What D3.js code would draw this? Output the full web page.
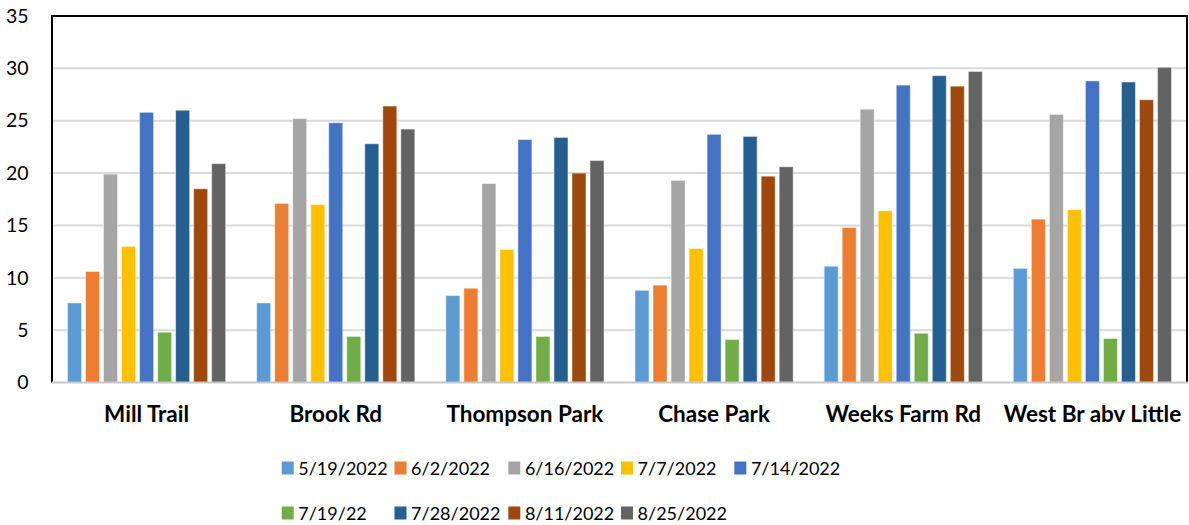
<!DOCTYPE html>
<html><head><meta charset="utf-8">
<script src="https://cdn.jsdelivr.net/npm/d3@7"></script>
<style>
html,body{margin:0;padding:0;background:#fff;}
svg{display:block;font-family:Lato, "Open Sans", sans-serif;}
</style></head>
<body><svg id="chart" width="1189" height="525"></svg>
<script>
const sites = ["Mill Trail","Brook Rd","Thompson Park","Chase Park","Weeks Farm Rd","West Br abv Little"];
const dates = ["5/19/2022","6/2/2022","6/16/2022","7/7/2022","7/14/2022","7/19/22","7/28/2022","8/11/2022","8/25/2022"];
const colors = ["#5B9BD5","#ED7D31","#A5A5A5","#FFC000","#4472C4","#70AD47","#255E91","#9E480E","#636363"];
// values per date (series), in order of sites
const s0519 = [7.6, 7.6, 8.3, 8.8, 11.1, 10.9];
const s0602 = [10.6, 17.1, 9.0, 9.3, 14.8, 15.6];
const s0616 = [19.9, 25.2, 19.0, 19.3, 26.1, 25.6];
const s0707 = [13.0, 17.0, 12.7, 12.8, 16.4, 16.5];
const s0714 = [25.8, 24.8, 23.2, 23.7, 28.4, 28.8];
const s0719 = [4.8, 4.4, 4.4, 4.1, 4.7, 4.2];
const s0728 = [26.0, 22.8, 23.4, 23.5, 29.3, 28.7];
const s0811 = [18.5, 26.4, 20.0, 19.7, 28.3, 27.0];
const s0825 = [20.9, 24.2, 21.2, 20.6, 29.7, 30.1];
const series = [s0519,s0602,s0616,s0707,s0714,s0719,s0728,s0811,s0825];
const yTicks = [0,5,10,15,20,25,30,35];

const svg = d3.select("#chart");
const L = 52, R = 1187, T = 16, B = 382.5;

const x0 = d3.scaleBand().domain(sites).range([L, R]).paddingInner(0).paddingOuter(0);
const x1 = d3.scaleBand().domain(d3.range(dates.length)).range([0, x0.bandwidth()])
  .paddingInner(0.224).paddingOuter(0.86);
const y = d3.scaleLinear().domain([0,35]).range([B, T]);

// gridlines
svg.append("g").selectAll("line").data(yTicks.filter(t => t>0 && t<35)).join("line")
  .attr("x1", L).attr("x2", R).attr("y1", d=>y(d)).attr("y2", d=>y(d))
  .attr("stroke", "#d9d9d9").attr("stroke-width", 2);

// bars
const groups = svg.append("g").selectAll("g").data(sites).join("g")
  .attr("transform", d => `translate(${x0(d)},0)`);
groups.selectAll("rect").data((d,i) => series.map((s,k) => ({k, v: s[i]}))).join("rect")
  .attr("x", d => x1(d.k)).attr("width", x1.bandwidth())
  .attr("y", d => y(d.v)).attr("height", d => y(0) - y(d.v))
  .attr("fill", d => colors[d.k])
  .attr("stroke", "#ffffff").attr("stroke-opacity", 0.45).attr("stroke-width", 1);

// frame
svg.append("path")
  .attr("d", `M${L},${B} L${L},${T} L${R},${T} L${R},${B}`)
  .attr("fill", "none").attr("stroke", "#000").attr("stroke-width", 2);
// x axis line
svg.append("line").attr("x1", L).attr("x2", R+1).attr("y1", B).attr("y2", B)
  .attr("stroke", "#c8c8c8").attr("stroke-width", 2);

// y axis labels
const yAxis = d3.axisLeft(y).tickValues(yTicks).tickSize(0).tickPadding(0);
const ya = svg.append("g").attr("transform", `translate(28.5,0)`).call(yAxis);
ya.select(".domain").remove();
ya.selectAll("text").attr("font-size", 19.5).attr("fill", "#000")
  .attr("font-family", "Lato, sans-serif");

// x axis labels
const xAxis = d3.axisBottom(x0).tickSize(0).tickPadding(0);
const xa = svg.append("g").attr("transform", `translate(0,${B})`).call(xAxis);
xa.select(".domain").remove();
xa.selectAll("text").attr("font-size", 22.5).attr("font-weight", "bold").attr("fill", "#000")
  .attr("font-family", "Lato, sans-serif").attr("dy", null).attr("y", 39);

// legend
const colX = [281.7, 394.5, 508.3, 621, 734.3];
const legendItems = dates.map((d,k) => ({d, k,
  col: k < 5 ? k : (k === 5 ? 0 : k - 5),
  row: k < 5 ? 0 : 1}));
const lg = svg.append("g").selectAll("g").data(legendItems).join("g")
  .attr("transform", d => `translate(${colX[d.col]},${d.row ? 520 : 475})`);
lg.append("rect").attr("x", 0).attr("y", -13.5).attr("width", 12).attr("height", 13)
  .attr("fill", d => colors[d.k]);
lg.append("text").attr("x", 16.6).attr("y", 0).attr("font-size", 18).attr("fill", "#000")
  .text(d => d.d);
</script></body></html>
